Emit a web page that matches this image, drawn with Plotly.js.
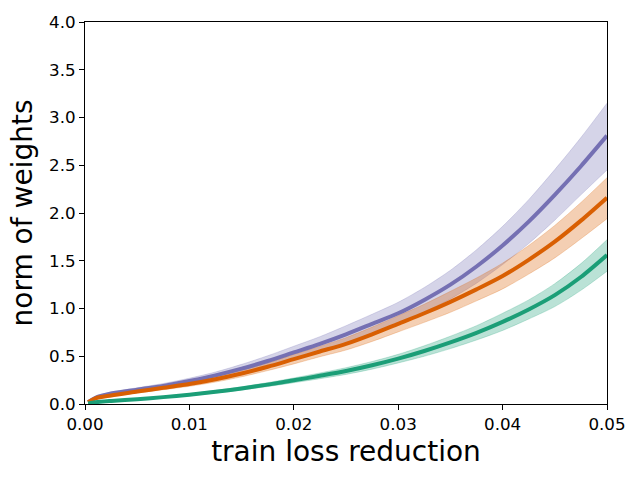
<!DOCTYPE html>
<html>
<head>
<meta charset="utf-8">
<script src="https://cdn.plot.ly/plotly-3.0.1.min.js"></script>
<style>
  html, body { margin: 0; padding: 0; background: #fff; }
  #myDiv { width: 640px; height: 480px; }
</style>
</head>
<body>
<div id="myDiv"></div>
<script>
// values
var lossReduction = [0.0003, 0.001, 0.0025, 0.005, 0.0075, 0.01, 0.0125, 0.015, 0.0175, 0.02, 0.0225,
  0.025, 0.0275, 0.03, 0.0325, 0.035, 0.0375, 0.04, 0.0425, 0.045, 0.0475, 0.05];

var purpleMean = [0.02, 0.065, 0.11, 0.15, 0.19, 0.24, 0.30, 0.37, 0.45, 0.54, 0.63,
  0.73, 0.84, 0.95, 1.09, 1.25, 1.44, 1.66, 1.91, 2.19, 2.49, 2.81];
var purpleUpper = [0.03, 0.08, 0.125, 0.17, 0.215, 0.27, 0.335, 0.415, 0.505, 0.605, 0.705,
  0.82, 0.94, 1.065, 1.22, 1.40, 1.615, 1.86, 2.14, 2.455, 2.79, 3.15];
var purpleLower = [0.01, 0.05, 0.095, 0.13, 0.165, 0.21, 0.265, 0.325, 0.395, 0.475, 0.555,
  0.64, 0.74, 0.835, 0.96, 1.10, 1.265, 1.46, 1.68, 1.925, 2.19, 2.45];

var orangeMean = [0.02, 0.06, 0.09, 0.13, 0.17, 0.21, 0.26, 0.32, 0.39, 0.47, 0.55,
  0.63, 0.73, 0.84, 0.95, 1.07, 1.20, 1.34, 1.51, 1.70, 1.92, 2.16];
var orangeUpper = [0.03, 0.07, 0.10, 0.145, 0.19, 0.235, 0.29, 0.355, 0.43, 0.52, 0.605,
  0.695, 0.805, 0.925, 1.045, 1.18, 1.32, 1.475, 1.66, 1.87, 2.11, 2.37];
var orangeLower = [0.01, 0.05, 0.08, 0.115, 0.15, 0.185, 0.23, 0.285, 0.35, 0.42, 0.495,
  0.565, 0.655, 0.755, 0.855, 0.96, 1.08, 1.205, 1.36, 1.53, 1.73, 1.94];

var greenMean = [0.005, 0.018, 0.032, 0.05, 0.072, 0.097, 0.128, 0.163, 0.203, 0.248, 0.295,
  0.345, 0.405, 0.475, 0.555, 0.645, 0.745, 0.86, 0.99, 1.14, 1.33, 1.56];
var greenUpper = [0.008, 0.023, 0.037, 0.057, 0.081, 0.108, 0.142, 0.18, 0.224, 0.273, 0.325,
  0.38, 0.445, 0.52, 0.61, 0.71, 0.82, 0.95, 1.09, 1.26, 1.47, 1.72];
var greenLower = [0.002, 0.013, 0.027, 0.044, 0.064, 0.087, 0.115, 0.147, 0.183, 0.223, 0.265,
  0.31, 0.365, 0.43, 0.50, 0.58, 0.67, 0.77, 0.89, 1.02, 1.19, 1.39];

var xTicks = [0, 0.01, 0.02, 0.03, 0.04, 0.05];
var yTicks = [0, 0.5, 1.0, 1.5, 2.0, 2.5, 3.0, 3.5, 4.0];

function band(x, lower, upper, color) {
  return [
    {x: x, y: lower, mode: 'lines', line: {width: 0.8, color: color, shape: 'spline', smoothing: 0.8},
      hoverinfo: 'skip'},
    {x: x, y: upper, mode: 'lines', line: {width: 0.8, color: color, shape: 'spline', smoothing: 0.8},
      fill: 'tonexty', fillcolor: color, hoverinfo: 'skip'}
  ];
}

function meanLine(x, y, color) {
  return {x: x, y: y, mode: 'lines', line: {width: 4, color: color, shape: 'spline', smoothing: 0.8}};
}

var traces = []
  .concat(band(lossReduction, purpleLower, purpleUpper, 'rgba(117,112,179,0.3)'))
  .concat(band(lossReduction, orangeLower, orangeUpper, 'rgba(217,95,2,0.3)'))
  .concat(band(lossReduction, greenLower, greenUpper, 'rgba(27,158,119,0.3)'));
traces.push(meanLine(lossReduction, purpleMean, '#7570b3'));
traces.push(meanLine(lossReduction, orangeMean, '#d95f02'));
traces.push(meanLine(lossReduction, greenMean, '#1b9e77'));

var layout = {
  width: 640, height: 480,
  margin: {l: 85, r: 33, t: 22, b: 76},
  showlegend: false,
  paper_bgcolor: '#fff', plot_bgcolor: '#fff',
  font: {family: 'DejaVu Sans', color: '#000'},
  xaxis: {
    range: [0, 0.05],
    tickvals: xTicks, tickformat: '.2f',
    ticks: 'outside', ticklen: 5, tickwidth: 1, tickcolor: '#000',
    showline: true, linecolor: '#000', linewidth: 1, mirror: true,
    showgrid: false, zeroline: false,
    tickfont: {size: 16.7},
    title: {text: 'train loss reduction', font: {size: 28}, standoff: 8}
  },
  yaxis: {
    range: [0, 4.0],
    tickvals: yTicks, tickformat: '.1f',
    ticks: 'outside', ticklen: 5, tickwidth: 1, tickcolor: '#000',
    showline: true, linecolor: '#000', linewidth: 1, mirror: true,
    showgrid: false, zeroline: false,
    tickfont: {size: 16.7},
    title: {text: 'norm of weights', font: {size: 28}, standoff: 8}
  }
};

Plotly.newPlot('myDiv', traces, layout, {staticPlot: true});
</script>
</body>
</html>
